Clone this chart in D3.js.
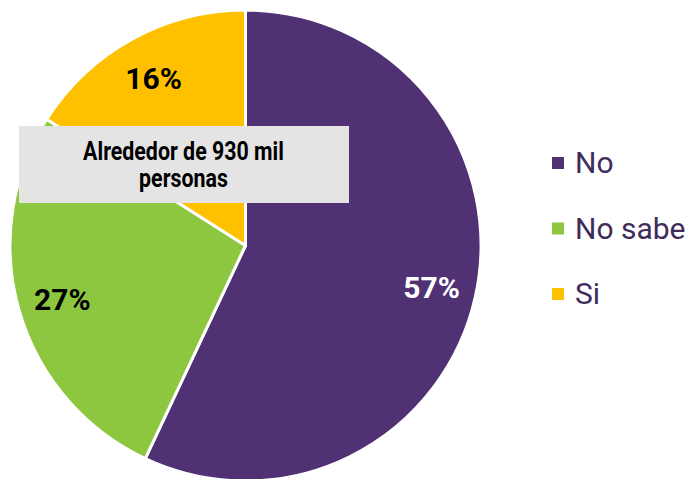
<!DOCTYPE html>
<html><head><meta charset="utf-8">
<script src="https://cdn.jsdelivr.net/npm/d3@7"></script>
<style>body{margin:0;background:#fff;}svg{display:block;}</style>
</head><body>
<svg id="c" width="697" height="479"></svg>
<script>
const categories = ["No", "No sabe", "Si"];
const values = [57, 27, 16];
const labels = ["57%", "27%", "16%"];
const colors = ["#4F3174", "#8DC63F", "#FFC000"];
const labelColors = ["#ffffff", "#000000", "#000000"];
const calloutLines = ["Alrededor de 930 mil", "personas"];

const svg = d3.select("#c");
const cx = 245.5, cy = 245.5, R = 235.5;
const pie = d3.pie().sort(null).value(d => d)(values);
const arc = d3.arc().innerRadius(0).outerRadius(R);
const labelArc = d3.arc().innerRadius(R * 0.81).outerRadius(R * 0.81);

const g = svg.append("g").attr("transform", `translate(${cx},${cy})`);
g.selectAll("path").data(pie).join("path")
  .attr("d", arc).attr("fill", (d, i) => colors[i])
  .attr("stroke", "#fff").attr("stroke-width", 3).attr("stroke-linejoin", "round");

g.selectAll("text.pl").data(pie).join("text").attr("class", "pl")
  .attr("transform", d => `translate(${labelArc.centroid(d)})`)
  .attr("text-anchor", "middle").attr("dy", "0.36em")
  .attr("font-family", "Roboto").attr("font-weight", "bold").attr("font-size", 30)
  .attr("fill", (d, i) => labelColors[i])
  .text((d, i) => labels[i]);

// callout box
svg.append("rect").attr("x", 19).attr("y", 126).attr("width", 330).attr("height", 77).attr("fill", "#E4E4E4");
calloutLines.forEach((t, i) => {
  svg.append("text")
    .attr("transform", `translate(183.5,${160 + i * 27}) scale(0.855,1)`)
    .attr("text-anchor", "middle")
    .attr("font-family", "Roboto").attr("font-weight", "bold").attr("font-size", 25)
    .attr("fill", "#000").text(t);
});

// legend
const leg = svg.append("g");
categories.forEach((c, i) => {
  const y = 162 + i * 65.5;
  leg.append("rect").attr("x", 552).attr("y", y - 5).attr("width", 12).attr("height", 12).attr("fill", colors[i]);
  leg.append("text").attr("x", 575).attr("y", y + 11)
    .attr("font-family", "Roboto").attr("font-size", 30).attr("fill", "#3F2C5A").text(c);
});
</script>
</body></html>
